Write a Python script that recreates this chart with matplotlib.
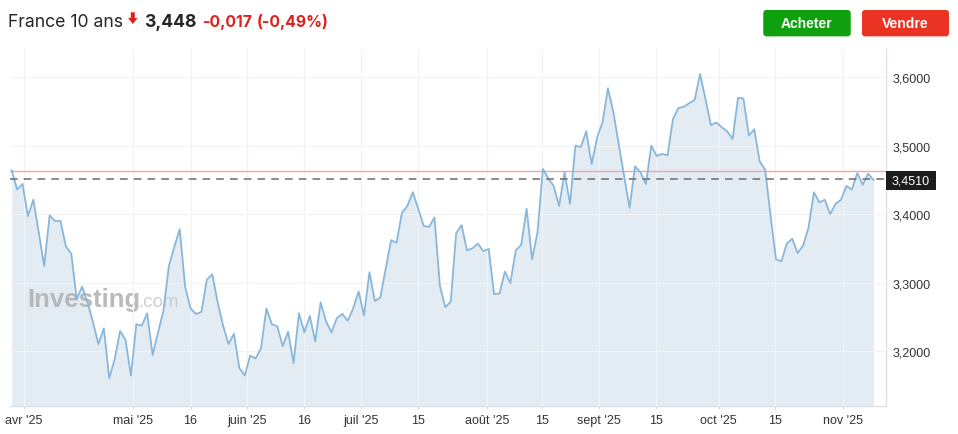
import numpy as np
import matplotlib.pyplot as plt
import matplotlib.transforms as mtransforms
from matplotlib.patches import FancyBboxPatch, Polygon, Rectangle

W, H = 958, 435

# rendement France 10 ans, une valeur par séance
yield_avr_juin = [
    3.464, 3.436, 3.444, 3.397, 3.421, 3.373, 3.324, 3.398, 3.390, 3.390,
    3.353, 3.342, 3.276, 3.294, 3.271, 3.242, 3.210, 3.233, 3.160, 3.188,
    3.229, 3.216, 3.164, 3.239, 3.237, 3.255, 3.194, 3.227, 3.259, 3.324,
    3.352, 3.378, 3.294, 3.262, 3.254, 3.257, 3.304, 3.312, 3.271, 3.237,
    3.210, 3.225, 3.175, 3.164, 3.193, 3.189, 3.204, 3.262, 3.239, 3.236,
    3.207, 3.228, 3.182, 3.255, 3.227, 3.251, 3.214, 3.271,
]
yield_juin_juil = [
    3.243, 3.227, 3.248, 3.254, 3.244, 3.262, 3.287, 3.252, 3.315, 3.273,
    3.278, 3.320, 3.362, 3.358, 3.402, 3.412, 3.432, 3.408, 3.383, 3.381,
    3.395,
]
yield_juil_sept = [
    3.295, 3.264, 3.272, 3.372, 3.384, 3.347, 3.350, 3.357, 3.346, 3.349,
    3.283, 3.284, 3.316, 3.299, 3.347, 3.355, 3.408, 3.334, 3.373, 3.466,
    3.452, 3.441, 3.412, 3.461, 3.415, 3.500, 3.498, 3.521, 3.473, 3.512,
    3.534, 3.584, 3.549, 3.502, 3.455, 3.409, 3.470, 3.461, 3.444, 3.500,
]
yield_sept_nov = [
    3.485, 3.488, 3.486, 3.539, 3.555, 3.557, 3.562, 3.567, 3.605, 3.568,
    3.530, 3.534, 3.527, 3.521, 3.510, 3.570, 3.569, 3.515, 3.524, 3.477,
    3.465, 3.398, 3.334, 3.331, 3.357, 3.364, 3.343, 3.354, 3.380, 3.432,
    3.417, 3.421, 3.400, 3.415, 3.421, 3.441, 3.436, 3.460, 3.443, 3.459,
    3.450,
]
yields = np.array(yield_avr_juin + yield_juin_juil + yield_juil_sept + yield_sept_nov)

# axe des x : index de séance
tick_pos = [2.3, 22.3, 33.0, 43.5, 53.9, 64.5, 75.0, 87.7, 97.9, 108.4, 118.9, 130.4, 140.9, 153.35]
tick_labels = ["avr '25", "mai '25", "16", "juin '25", "16", "juil '25", "15",
               "août '25", "15", "sept '25", "15", "oct '25", "15", "nov '25"]
y_ticks = [3.2, 3.3, 3.4, 3.5, 3.6]

ref_level = 3.4635     # trait rouge
last_level = 3.451     # dernier cours (pointillé)
last_label = "3,4510"

header_name = "France 10 ans"
header_last = "3,448"
header_chg = "-0,017"
header_pct = "(-0,49%)"

RED = "#e0201b"
LINE = "#89b7db"
FILL = "#e3ecf3"
GRID = "#f1f3f5"
TXT = "#333333"


def px(x, y):
    # pixels (origine en haut à gauche) -> fraction de figure
    return x / W, 1 - y / H


fig = plt.figure(figsize=(W / 100, H / 100), dpi=100)
fig.patch.set_facecolor("white")

ax_l, ax_r, ax_t, ax_b = 10, 886, 50, 407.3
ax = fig.add_axes([ax_l / W, 1 - ax_b / H, (ax_r - ax_l) / W, (ax_b - ax_t) / H])

x = np.arange(len(yields))
ax.fill_between(x, yields, 3.0, color=FILL, lw=0, zorder=1)
ax.plot(x, yields, color=LINE, lw=1.3, zorder=4, solid_joinstyle="round")

ax.axhline(ref_level, color="#f4a5a5", lw=1.0, zorder=3)
ax.axhline(last_level, color="#6b6b6b", lw=1.1, ls=(0, (5, 4)), zorder=5)

ax.set_xlim(-0.31, 161.3)
ax.set_ylim(3.119, 3.6414)

ax.set_xticks(tick_pos)
ax.set_xticklabels(tick_labels)
ax.set_yticks(y_ticks)
ax.yaxis.tick_right()
ax.yaxis.set_major_formatter(lambda v, p: f"{v:.4f}".replace(".", ","))

ax.set_axisbelow(False)
ax.grid(True, color=GRID, lw=0.9)
for gl in ax.get_xgridlines() + ax.get_ygridlines():
    gl.set_zorder(2)

for lab in ax.get_xticklabels() + ax.get_yticklabels():
    lab.set_fontfamily("Liberation Sans")
ax.tick_params(axis="x", labelsize=9, colors=TXT, length=2.5, width=0.8, pad=3)
ax.tick_params(axis="x", color="#d5dde6")
ax.tick_params(axis="y", labelsize=9, colors=TXT, length=0, pad=5)

for s in ["left", "top"]:
    ax.spines[s].set_visible(False)
for s in ["bottom", "right"]:
    ax.spines[s].set_color("#dbe2ea")
    ax.spines[s].set_linewidth(1.0)

# filigrane
ax.text(27 / W, 1 - 307 / H, "Investing", transform=fig.transFigure, fontsize=18.5,
        fontweight="bold", family="Liberation Sans", color="#b3b3b3", alpha=0.9,
        ha="left", va="baseline", zorder=2)
ax.text(138 / W, 1 - 307 / H, ".com", transform=fig.transFigure, fontsize=13.5,
        family="Liberation Sans", color="#cacaca", alpha=0.9,
        ha="left", va="baseline", zorder=2)

# étiquette du dernier cours
fig.add_artist(Rectangle(px(886, 190.7), 49.7 / W, 19 / H, transform=fig.transFigure,
                         facecolor="#1c1c1c", edgecolor="none"))
fig.text(*px(910.8, 181.2), last_label, color="white", fontsize=9,
         family="Liberation Sans", ha="center", va="center")

# en-tête
fig.text(*px(8, 27.3), header_name, fontsize=12.7, family="Inter", color="#262626",
         ha="left", va="baseline")
arrow = [(130.8, 13.3), (134.8, 13.3), (134.8, 19.0), (137.5, 19.0), (132.8, 25.0),
         (128.1, 19.0), (130.8, 19.0)]
fig.add_artist(Polygon([px(a, b) for a, b in arrow], closed=True, transform=fig.transFigure,
                       facecolor=RED, edgecolor="none"))
fig.text(*px(144, 27.3), header_last, fontsize=12.7, family="Inter", fontweight="bold",
         color="#262626", ha="left", va="baseline")
fig.text(*px(202.7, 26.8), header_chg, fontsize=11.3, family="Inter", fontweight="bold",
         color=RED, ha="left", va="baseline")
fig.text(*px(256.7, 26.8), header_pct, fontsize=11.3, family="Inter", fontweight="bold",
         color=RED, ha="left", va="baseline")

# boutons
for x0, x1, col, lab in [(763.3, 850.7, "#0ea00d", "Acheter"), (862, 949, "#ea3323", "Vendre")]:
    sh = FancyBboxPatch((x0, H - 38.5), x1 - x0, 26, boxstyle="round,pad=0,rounding_size=3",
                        transform=mtransforms.IdentityTransform(), facecolor="#000000",
                        alpha=0.06, edgecolor="none")
    fig.add_artist(sh)
    b = FancyBboxPatch((x0, H - 37.3), x1 - x0, 26.3, boxstyle="round,pad=0,rounding_size=3",
                       transform=mtransforms.IdentityTransform(), facecolor=col,
                       edgecolor="none")
    fig.add_artist(b)
    fig.text(*px((x0 + x1) / 2, 24.3), lab, color="white", fontsize=10, fontweight="bold",
             family="Liberation Sans", ha="center", va="center")

fig.savefig("out.png", dpi=100)
